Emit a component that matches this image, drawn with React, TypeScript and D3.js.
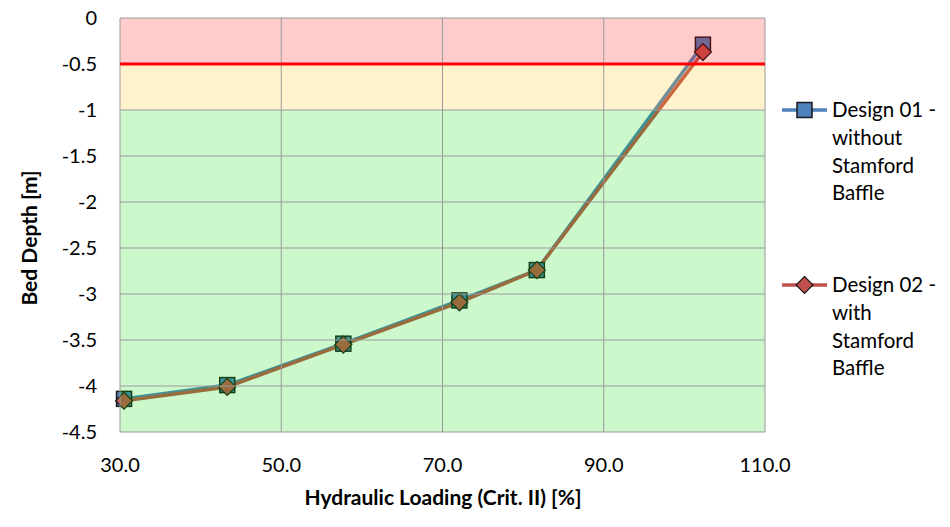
import { useEffect, useRef } from 'react'
import * as d3 from 'd3'

const loading = [30.5, 43.3, 57.7, 72.1, 81.7, 102.3]
const design01 = [-4.14, -3.99, -3.54, -3.07, -2.74, -0.29]
const design02 = [-4.16, -4.01, -3.55, -3.09, -2.74, -0.37]
const xTicks = [30, 50, 70, 90, 110]
const yTicks = [0, -0.5, -1, -1.5, -2, -2.5, -3, -3.5, -4, -4.5]
const zones = [
  { from: 0, to: -0.5, color: 'rgb(255,0,0)' },
  { from: -0.5, to: -1, color: 'rgb(255,192,0)' },
  { from: -1, to: -4.5, color: 'rgb(0,220,0)' },
]
const limit = -0.5

const series = [
  { name: ['Design 01 -', 'without', 'Stamford', 'Baffle'], values: design01, color: '#4F81BD', marker: 'square' },
  { name: ['Design 02 -', 'with', 'Stamford', 'Baffle'], values: design02, color: '#C0504D', marker: 'diamond' },
]

const font = 'Lato, "Open Sans", sans-serif'
// Excel-style labels use a plain hyphen for negatives
const fmtY = (v: number) => String(v).replace('\u2212', '-')

export default function App() {
  const svgRef = useRef<SVGSVGElement>(null)

  useEffect(() => {
    if (!svgRef.current) return
    const svg = d3.select(svgRef.current)
    svg.selectAll('*').remove()

    const x = d3.scaleLinear().domain([30, 110]).range([120, 765])
    const y = d3.scaleLinear().domain([0, -4.5]).range([18, 432])

    const drawMarker = (g: d3.Selection<SVGGElement, unknown, null, undefined>, kind: string, cx: number, cy: number, fill: string) => {
      if (kind === 'square') {
        g.append('rect')
          .attr('x', cx - 7.5).attr('y', cy - 7.5)
          .attr('width', 15).attr('height', 15)
          .attr('fill', fill).attr('stroke', '#1a1a1a').attr('stroke-width', 1.5)
      } else {
        g.append('path')
          .attr('d', `M${cx},${cy - 8.5}L${cx + 8.5},${cy}L${cx},${cy + 8.5}L${cx - 8.5},${cy}Z`)
          .attr('fill', fill).attr('stroke', '#1a1a1a').attr('stroke-width', 1.2)
      }
    }

    const plot = svg.append('g')
    plot.append('rect')
      .attr('x', x(30)).attr('y', y(0))
      .attr('width', x(110) - x(30)).attr('height', y(-4.5) - y(0))
      .attr('fill', '#fff')

    const line = d3.line<number>()
      .x((_, i) => x(loading[i]))
      .y(d => y(d))

    series.forEach(s => {
      plot.append('path')
        .datum(s.values)
        .attr('fill', 'none')
        .attr('stroke', s.color)
        .attr('stroke-width', 3.5)
        .attr('stroke-linejoin', 'round')
        .attr('d', line)
    })
    series.forEach(s => {
      s.values.forEach((v, i) => drawMarker(plot, s.marker, x(loading[i]), y(v), s.color))
    })

    // translucent zones over the series
    zones.forEach(z => {
      plot.append('rect')
        .attr('x', x(30)).attr('y', y(z.from))
        .attr('width', x(110) - x(30)).attr('height', y(z.to) - y(z.from))
        .attr('fill', z.color).attr('fill-opacity', 0.2)
    })

    // grid
    yTicks.forEach(t => {
      plot.append('line')
        .attr('x1', x(30)).attr('x2', x(110))
        .attr('y1', y(t)).attr('y2', y(t))
        .attr('stroke', '#9a9a9a').attr('stroke-width', 1)
    })
    xTicks.forEach(t => {
      plot.append('line')
        .attr('x1', x(t)).attr('x2', x(t))
        .attr('y1', y(0)).attr('y2', y(-4.5))
        .attr('stroke', '#9a9a9a').attr('stroke-width', 1)
    })

    plot.append('line')
      .attr('x1', x(30)).attr('x2', x(110))
      .attr('y1', y(limit)).attr('y2', y(limit))
      .attr('stroke', '#FF0000').attr('stroke-width', 3)

    // tick labels
    yTicks.forEach(t => {
      svg.append('text')
        .attr('x', 97).attr('y', y(t)).attr('dy', '0.35em')
        .attr('text-anchor', 'end')
        .style('font-family', font).style('font-size', '20px').style('fill', '#000')
        .text(fmtY(t))
    })
    xTicks.forEach(t => {
      svg.append('text')
        .attr('x', x(t)).attr('y', y(-4.5) + 33).attr('dy', '0.35em')
        .attr('text-anchor', 'middle')
        .style('font-family', font).style('font-size', '20px').style('fill', '#000')
        .text(d3.format('.1f')(t))
    })

    svg.append('text')
      .attr('x', 443).attr('y', 498).attr('dy', '0.35em')
      .attr('text-anchor', 'middle')
      .style('font-family', font).style('font-size', '21px').style('font-weight', 'bold')
      .text('Hydraulic Loading (Crit. II) [%]')

    svg.append('text')
      .attr('transform', `translate(30,238) rotate(-90)`)
      .attr('dy', '0.35em')
      .attr('text-anchor', 'middle')
      .style('font-family', font).style('font-size', '21px').style('font-weight', 'bold')
      .text('Bed Depth [m]')

    // legend
    const legendTop = [110, 285]
    series.forEach((s, si) => {
      const lg = svg.append('g')
      const ly = legendTop[si]
      lg.append('line')
        .attr('x1', 782).attr('x2', 827).attr('y1', ly).attr('y2', ly)
        .attr('stroke', s.color).attr('stroke-width', 3.5)
      drawMarker(lg, s.marker, 804.5, ly, s.color)
      s.name.forEach((ln, li) => {
        lg.append('text')
          .attr('x', 832).attr('y', ly + li * 27.7).attr('dy', '0.35em')
          .style('font-family', font).style('font-size', '20.5px').style('fill', '#000')
          .text(ln)
      })
    })
  }, [])

  return <svg ref={svgRef} width={950} height={527} style={{ display: 'block', margin: -8, background: '#fff' }} />
}
